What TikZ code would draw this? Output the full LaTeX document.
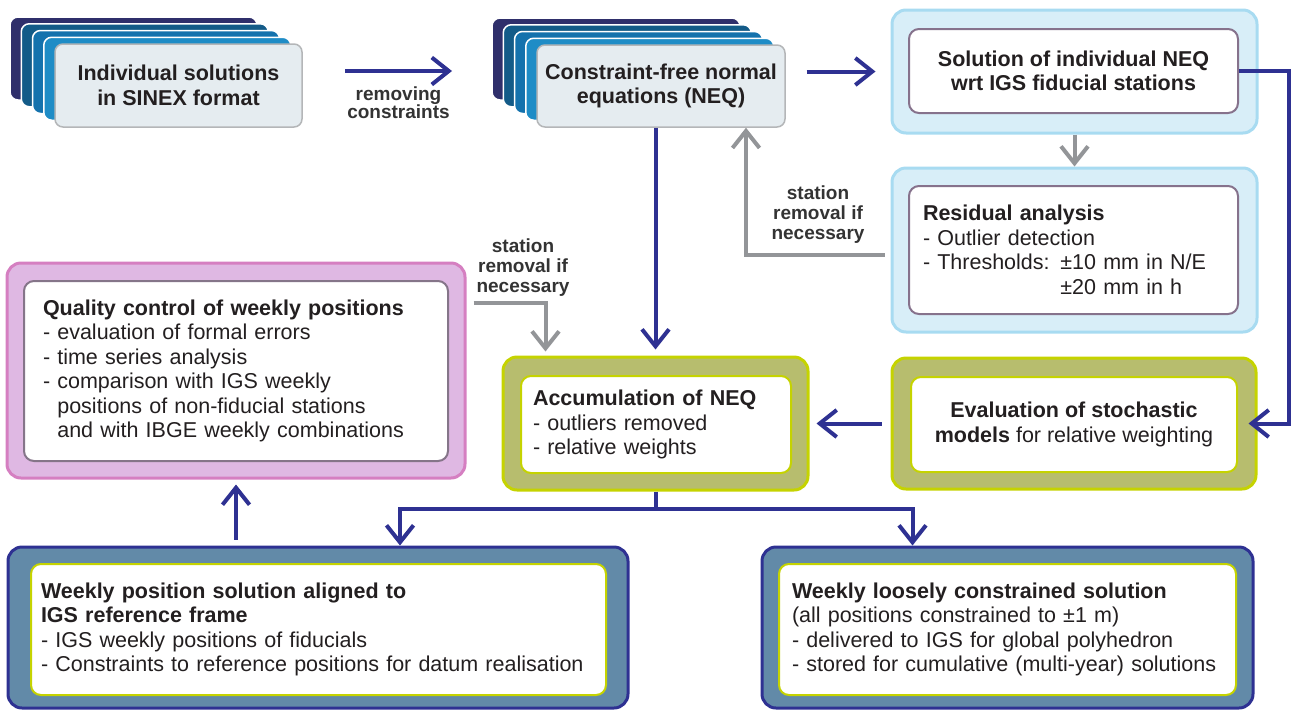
\documentclass[tikz,border=0pt]{standalone}
\usepackage{fontspec}
\setmainfont{Liberation Sans}
\usetikzlibrary{arrows.meta,calc}
\definecolor{navy}{RGB}{46,49,146}
\definecolor{arrgray}{RGB}{147,149,152}
\definecolor{txtdark}{RGB}{35,31,32}
\definecolor{lblgray}{RGB}{51,51,51}
\definecolor{stackfill}{RGB}{229,236,240}
\definecolor{stackedge}{RGB}{180,182,184}
\definecolor{layerA}{RGB}{30,140,198}
\definecolor{layerB}{RGB}{20,114,173}
\definecolor{layerC}{RGB}{19,91,136}
\definecolor{layerD}{RGB}{47,47,107}
\definecolor{skyfill}{RGB}{216,238,248}
\definecolor{skyedge}{RGB}{168,219,241}
\definecolor{mauve}{RGB}{134,114,140}
\definecolor{pinkfill}{RGB}{223,184,227}
\definecolor{pinkedge}{RGB}{213,127,193}
\definecolor{olivefill}{RGB}{183,189,110}
\definecolor{limeedge}{RGB}{197,211,0}
\definecolor{steelfill}{RGB}{98,138,168}
\newcommand\diagfont{\fontsize{21.5}{24.5}\selectfont}

\begin{document}
\begin{tikzpicture}[x=1pt,y=-1pt,font=\diagfont,text=txtdark,
stackbox/.style={draw=stackedge,fill=stackfill,line width=1.5pt,rounded corners=8pt,minimum width=247pt,minimum height=83pt,align=center,font=\diagfont\bfseries},
outerbox/.style 2 args={draw=#1,fill=#2,line width=3pt,rounded corners=14pt},
inbox/.style={draw=#1,fill=white,line width=2pt,rounded corners=10pt},
navyarr/.style={draw=navy,line width=4pt,-{Straight Barb[length=17pt,width=27pt]}},
grayarr/.style={draw=arrgray,line width=4pt,-{Straight Barb[length=17pt,width=27pt]}},
lbl/.style={font=\fontsize{19}{20}\selectfont\bfseries,text=lblgray,align=center}]
\useasboundingbox (0,0) rectangle (1293,710);

% stacked input boxes
\coordinate (sinexpos) at (178.5,85.5);
\coordinate (neqpos) at (661,86);
\foreach \k/\c in {4/layerD,3/layerC,2/layerB,1/layerA}{
  \draw[fill=\c,draw=white,line width=1.5pt,rounded corners=8pt] ($(sinexpos)+(-123.5-11.25*\k,-41.5-6.75*\k)$) rectangle ++(247,83);
  \draw[fill=\c,draw=white,line width=1.5pt,rounded corners=8pt] ($(neqpos)+(-124-11.25*\k,-41-6.75*\k)$) rectangle ++(248,82);
}
\node[stackbox] (sinex) at (sinexpos) {Individual solutions\\in SINEX format};
\node[stackbox,minimum width=248pt,minimum height=82pt] (neq) at (neqpos) {Constraint-free normal\\equations (NEQ)};

% right column
\node[outerbox={skyedge}{skyfill},minimum width=365pt,minimum height=123pt] (solframe) at (1074.5,71.5) {};
\node[inbox=mauve,minimum width=329pt,minimum height=84pt,align=center,font=\diagfont\bfseries] (sol) at (1073.5,71) {Solution of individual NEQ\\wrt IGS fiducial stations};
\node[outerbox={skyedge}{skyfill},minimum width=365pt,minimum height=164pt] (resframe) at (1074.5,250) {};
\node[inbox=mauve,minimum width=329pt,minimum height=128pt,inner xsep=14pt,text width=301pt,align=left] (res) at (1073.5,250)
  {\textbf{Residual analysis}\\- Outlier detection\\- Thresholds: ±10 mm in N/E\\\phantom{- Thresholds: }±20 mm in h};
\node[outerbox={limeedge}{olivefill},minimum width=364pt,minimum height=131pt] (stoframe) at (1074,423.5) {};
\node[inbox=limeedge,minimum width=326pt,minimum height=95pt,align=center] (sto) at (1074,424.5)
  {\textbf{Evaluation of stochastic}\\\textbf{models} for relative weighting};

% middle and left
\node[outerbox={pinkedge}{pinkfill},minimum width=458pt,minimum height=215pt] (qcframe) at (236,370.5) {};
\node[inbox=mauve!80!gray,minimum width=424pt,minimum height=180pt,inner xsep=19pt,text width=386pt,align=left] (qc) at (236,371)
  {\textbf{Quality control of weekly positions}\\- evaluation of formal errors\\- time series analysis\\- comparison with IGS weekly\\\phantom{- }positions of non-fiducial stations\\\phantom{- }and with IBGE weekly combinations};
\node[outerbox={limeedge}{olivefill},minimum width=305pt,minimum height=133pt] (accframe) at (655.5,423.5) {};
\node[inbox=limeedge,minimum width=270pt,minimum height=97pt,inner xsep=12pt,text width=246pt,align=left] (acc) at (656,424.5)
  {\textbf{Accumulation of NEQ}\\- outliers removed\\- relative weights};

% bottom row
\node[outerbox={navy}{steelfill},minimum width=620pt,minimum height=161pt] (posframe) at (318,627.5) {};
\node[inbox=limeedge,minimum width=575pt,minimum height=131pt,inner xsep=10pt,text width=555pt,align=left] (pos) at (318.5,629.5)
  {\textbf{Weekly position solution aligned to}\\\textbf{IGS reference frame}\\- IGS weekly positions of fiducials\\- Constraints to reference positions for datum realisation};
\node[outerbox={navy}{steelfill},minimum width=491pt,minimum height=161pt] (looseframe) at (1007.5,627.5) {};
\node[inbox=limeedge,minimum width=457pt,minimum height=131pt,inner xsep=13pt,text width=431pt,align=left] (loose) at (1007.5,629.5)
  {\textbf{Weekly loosely constrained solution}\\(all positions constrained to ±1 m)\\- delivered to IGS for global polyhedron\\- stored for cumulative (multi-year) solutions};

% connectors
\coordinate (rmstart) at (345,71);
\coordinate (rmend) at (452,71);
\draw[navyarr] (rmstart) -- node[lbl,below=10pt,font=\fontsize{19}{18}\selectfont\bfseries] {removing\\constraints} (rmend);
\draw[navyarr] ($(solframe.west)+(-84,0)$) -- ($(solframe.west)+(-15,0)$);
\draw[navyarr] (sol.east) -- ++(50,0) |- ($(stoframe.east)+(-9,0)$);
\draw[grayarr] (solframe.south) -- (resframe.north);
\draw[grayarr] ([xshift=-6pt,yshift=-5pt]resframe.west) -| ($(neq.south)+(85,0)$);
\node[lbl] (rmtop) at (818,215) {station\\removal if\\necessary};
\draw[navyarr,shorten >=6pt] (neq.south -| accframe.north) -- (accframe.north);
\draw[grayarr] ($(qcframe.north east)+(7,41)$) -| ($(accframe.north west)+(44,-4)$);
\node[lbl] (rmleft) at (523,268) {station\\removal if\\necessary};
\draw[navyarr,shorten <=9pt,shorten >=7pt] (stoframe.west) -- (accframe.east);
\draw[navy,line width=4pt] (accframe.south) -- ++(0,17) coordinate (fork);
\draw[navyarr] (fork) -| ($(posframe.north)+(82,0)$);
\draw[navyarr] (fork) -| ($(looseframe.north)+(-95,0)$);
\draw[navyarr,shorten <=6pt,shorten >=5pt] (qcframe.south |- posframe.north) -- (qcframe.south);
\end{tikzpicture}
\end{document}
